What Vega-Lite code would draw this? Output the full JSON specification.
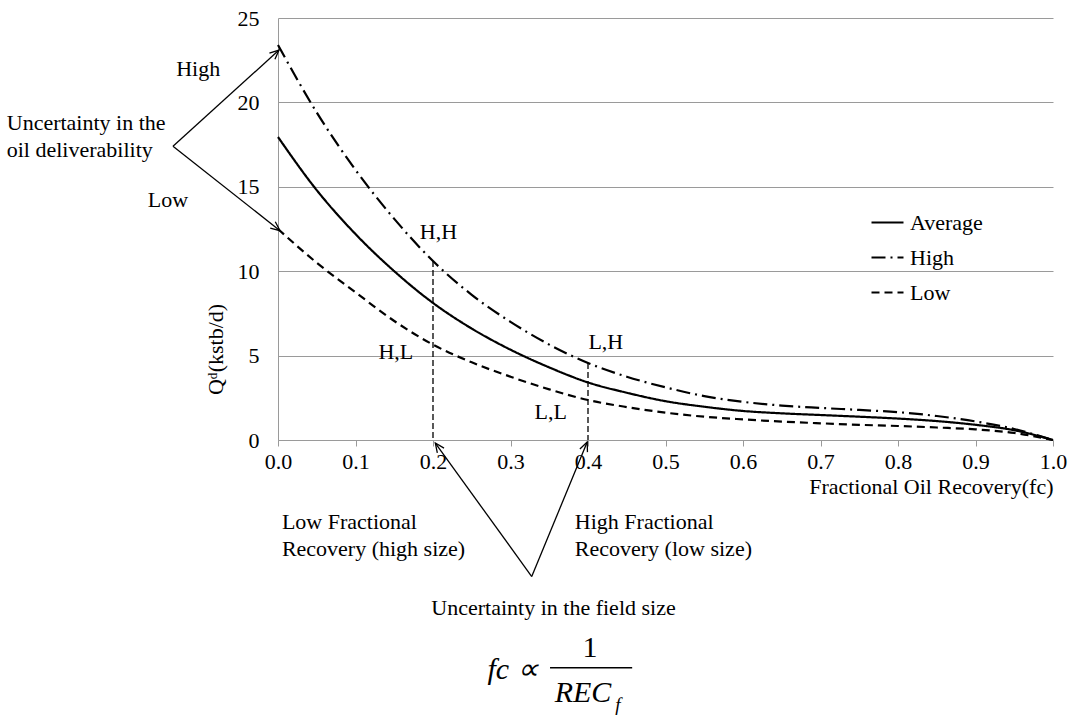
{
  "$schema": "https://vega.github.io/schema/vega-lite/v6.json",
  "width": 775,
  "height": 422,
  "autosize": {"type": "none"},
  "padding": {"left": 278, "top": 18, "right": 15, "bottom": 277},
  "background": "white",
  "config": {
    "view": {"stroke": null},
    "font": "Liberation Serif",
    "text": {"font": "Liberation Serif", "fontSize": 22, "color": "black"},
    "legend": {
      "orient": "none",
      "legendX": 592,
      "legendY": 187,
      "padding": 0,
      "symbolType": "stroke",
      "symbolSize": 1024,
      "symbolStrokeWidth": 2.2,
      "symbolStrokeColor": "black",
      "labelFont": "Liberation Serif",
      "labelFontSize": 22,
      "labelColor": "black",
      "labelOffset": 5,
      "rowPadding": 6
    }
  },
  "datasets": {
    "curves": [
      {"series": "Average", "fc": 0.0, "q": 17.95},
      {"series": "Average", "fc": 0.05, "q": 14.8},
      {"series": "Average", "fc": 0.1, "q": 12.2},
      {"series": "Average", "fc": 0.15, "q": 10.0},
      {"series": "Average", "fc": 0.2, "q": 8.12},
      {"series": "Average", "fc": 0.25, "q": 6.6},
      {"series": "Average", "fc": 0.3, "q": 5.35},
      {"series": "Average", "fc": 0.35, "q": 4.3},
      {"series": "Average", "fc": 0.4, "q": 3.41},
      {"series": "Average", "fc": 0.45, "q": 2.8},
      {"series": "Average", "fc": 0.5, "q": 2.3},
      {"series": "Average", "fc": 0.55, "q": 1.97},
      {"series": "Average", "fc": 0.6, "q": 1.72},
      {"series": "Average", "fc": 0.65, "q": 1.58},
      {"series": "Average", "fc": 0.7, "q": 1.48},
      {"series": "Average", "fc": 0.75, "q": 1.38},
      {"series": "Average", "fc": 0.8, "q": 1.27},
      {"series": "Average", "fc": 0.85, "q": 1.12},
      {"series": "Average", "fc": 0.9, "q": 0.9},
      {"series": "Average", "fc": 0.95, "q": 0.58},
      {"series": "Average", "fc": 1.0, "q": 0.0},
      {"series": "High", "fc": 0.0, "q": 23.4},
      {"series": "High", "fc": 0.05, "q": 19.4},
      {"series": "High", "fc": 0.1, "q": 16.0},
      {"series": "High", "fc": 0.15, "q": 13.1},
      {"series": "High", "fc": 0.2, "q": 10.6},
      {"series": "High", "fc": 0.25, "q": 8.6},
      {"series": "High", "fc": 0.3, "q": 7.0},
      {"series": "High", "fc": 0.35, "q": 5.65},
      {"series": "High", "fc": 0.4, "q": 4.56},
      {"series": "High", "fc": 0.45, "q": 3.75},
      {"series": "High", "fc": 0.5, "q": 3.12},
      {"series": "High", "fc": 0.55, "q": 2.6},
      {"series": "High", "fc": 0.6, "q": 2.26},
      {"series": "High", "fc": 0.65, "q": 2.04},
      {"series": "High", "fc": 0.7, "q": 1.9},
      {"series": "High", "fc": 0.75, "q": 1.78},
      {"series": "High", "fc": 0.8, "q": 1.65},
      {"series": "High", "fc": 0.85, "q": 1.42},
      {"series": "High", "fc": 0.9, "q": 1.1},
      {"series": "High", "fc": 0.95, "q": 0.65},
      {"series": "High", "fc": 1.0, "q": 0.0},
      {"series": "Low", "fc": 0.0, "q": 12.5},
      {"series": "Low", "fc": 0.05, "q": 10.5},
      {"series": "Low", "fc": 0.1, "q": 8.75},
      {"series": "Low", "fc": 0.15, "q": 7.05},
      {"series": "Low", "fc": 0.2, "q": 5.65},
      {"series": "Low", "fc": 0.25, "q": 4.6},
      {"series": "Low", "fc": 0.3, "q": 3.75},
      {"series": "Low", "fc": 0.35, "q": 3.0},
      {"series": "Low", "fc": 0.4, "q": 2.37},
      {"series": "Low", "fc": 0.45, "q": 1.95},
      {"series": "Low", "fc": 0.5, "q": 1.62},
      {"series": "Low", "fc": 0.55, "q": 1.38},
      {"series": "Low", "fc": 0.6, "q": 1.22},
      {"series": "Low", "fc": 0.65, "q": 1.09},
      {"series": "Low", "fc": 0.7, "q": 0.99},
      {"series": "Low", "fc": 0.75, "q": 0.9},
      {"series": "Low", "fc": 0.8, "q": 0.83},
      {"series": "Low", "fc": 0.85, "q": 0.74},
      {"series": "Low", "fc": 0.9, "q": 0.63},
      {"series": "Low", "fc": 0.95, "q": 0.42},
      {"series": "Low", "fc": 1.0, "q": 0.0}
    ],
    "guides": [
      {"fc": 0.2, "top": 10.6, "bottom": 0},
      {"fc": 0.4, "top": 4.56, "bottom": 0}
    ],
    "arrows": [
      {"id": "a1", "x0": -0.1355, "y0": 17.4, "x1": 0.0013, "y1": 23.1},
      {"id": "a2", "x0": -0.1355, "y0": 17.4, "x1": 0.0026, "y1": 12.4},
      {"id": "a3", "x0": 0.3274, "y0": -8.09, "x1": 0.203, "y1": -0.18},
      {"id": "a4", "x0": 0.3274, "y0": -8.09, "x1": 0.399, "y1": -0.12}
    ],
    "bars": [
      {"x0": 0.351, "x1": 0.457, "y": -13.49}
    ],
    "labels": [
      {"kind": "left", "x": -0.35, "y": 18.76, "text": "Uncertainty in the"},
      {"kind": "left", "x": -0.35, "y": 17.16, "text": "oil deliverability"},
      {"kind": "left", "x": 0.005, "y": -4.85, "text": "Low Fractional"},
      {"kind": "left", "x": 0.005, "y": -6.45, "text": "Recovery (high size)"},
      {"kind": "left", "x": 0.383, "y": -4.85, "text": "High Fractional"},
      {"kind": "left", "x": 0.383, "y": -6.45, "text": "Recovery (low size)"},
      {"kind": "center", "x": -0.103, "y": 22.0, "text": "High"},
      {"kind": "center", "x": -0.142, "y": 14.2, "text": "Low"},
      {"kind": "center", "x": 0.207, "y": 12.31, "text": "H,H"},
      {"kind": "center", "x": 0.152, "y": 5.21, "text": "H,L"},
      {"kind": "center", "x": 0.423, "y": 5.8, "text": "L,H"},
      {"kind": "center", "x": 0.352, "y": 1.66, "text": "L,L"},
      {"kind": "center", "x": 0.3555, "y": -9.94, "text": "Uncertainty in the field size"},
      {"kind": "italic", "x": 0.3026, "y": -13.6, "text": "fc ∝"},
      {"kind": "upright", "x": 0.4026, "y": -12.3, "text": "1"},
      {"kind": "italic", "x": 0.3935, "y": -14.97, "text": "REC"},
      {"kind": "sub", "x": 0.4387, "y": -15.68, "text": "f"}
    ]
  },
  "layer": [
    {
      "data": {"name": "curves"},
      "mark": {"type": "line", "interpolate": "monotone", "strokeWidth": 2.2, "color": "black"},
      "encoding": {
        "x": {
          "field": "fc", "type": "quantitative",
          "scale": {"domain": [0, 1], "nice": false, "zero": false},
          "axis": {
            "title": "Fractional Oil Recovery(fc)",
            "values": [0, 0.1, 0.2, 0.3, 0.4, 0.5, 0.6, 0.7, 0.8, 0.9, 1.0],
            "format": ".1f",
            "grid": false,
            "domainColor": "#9a9a9a",
            "tickColor": "#9a9a9a",
            "tickSize": 6,
            "labelFont": "Liberation Serif",
            "labelFontSize": 22,
            "labelColor": "black",
            "labelPadding": 5,
            "labelFlush": false,
            "labelOverlap": false,
            "titleFont": "Liberation Serif",
            "titleFontSize": 22,
            "titleFontWeight": "normal",
            "titleColor": "black",
            "titleAnchor": "end",
            "titlePadding": 4
          }
        },
        "y": {
          "field": "q", "type": "quantitative",
          "scale": {"domain": [0, 25], "nice": false, "zero": false},
          "axis": {
            "title": "Qᵈ(kstb/d)",
            "values": [0, 5, 10, 15, 20, 25],
            "grid": true,
            "gridColor": "#9a9a9a",
            "gridWidth": 1,
            "domainColor": "#9a9a9a",
            "ticks": false,
            "labelFont": "Liberation Serif",
            "labelFontSize": 22,
            "labelColor": "black",
            "labelPadding": 19,
            "titleFont": "Liberation Serif",
            "titleFontSize": 22,
            "titleFontWeight": "normal",
            "titleColor": "black",
            "titleAngle": -90,
            "titleAlign": "center",
            "titleBaseline": "middle",
            "titleX": -63,
            "titleY": 331
          }
        },
        "strokeDash": {
          "field": "series", "type": "nominal",
          "scale": {"domain": ["Average", "High", "Low"], "range": [[1, 0], [14, 5, 2, 5], [8, 5]]},
          "legend": {"title": null}
        }
      }
    },
    {
      "data": {"name": "guides"},
      "mark": {"type": "rule", "color": "black", "strokeWidth": 1.3, "strokeDash": [6, 3]},
      "encoding": {
        "x": {"field": "fc", "type": "quantitative", "scale": {"domain": [0, 1], "nice": false, "zero": false}},
        "y": {"field": "top", "type": "quantitative", "scale": {"domain": [0, 25], "nice": false, "zero": false}},
        "y2": {"field": "bottom"}
      }
    },
    {
      "data": {"name": "arrows"},
      "mark": {"type": "rule", "color": "black", "strokeWidth": 1.3},
      "encoding": {
        "x": {"field": "x0", "type": "quantitative", "scale": {"domain": [0, 1], "nice": false, "zero": false}},
        "y": {"field": "y0", "type": "quantitative", "scale": {"domain": [0, 25], "nice": false, "zero": false}},
        "x2": {"field": "x1"},
        "y2": {"field": "y1"}
      }
    },
    {
      "data": {"name": "arrows"},
      "transform": [{"filter": "datum.id == 'a1'"}],
      "mark": {"type": "point", "shape": "M-0.4,0.9L0,0L0.4,0.9", "filled": false, "stroke": "black", "strokeWidth": 1.3, "size": 420, "opacity": 1, "angle": 47.8},
      "encoding": {
        "x": {"field": "x1", "type": "quantitative", "scale": {"domain": [0, 1], "nice": false, "zero": false}},
        "y": {"field": "y1", "type": "quantitative", "scale": {"domain": [0, 25], "nice": false, "zero": false}}
      }
    },
    {
      "data": {"name": "arrows"},
      "transform": [{"filter": "datum.id == 'a2'"}],
      "mark": {"type": "point", "shape": "M-0.4,0.9L0,0L0.4,0.9", "filled": false, "stroke": "black", "strokeWidth": 1.3, "size": 420, "opacity": 1, "angle": 128.1},
      "encoding": {
        "x": {"field": "x1", "type": "quantitative", "scale": {"domain": [0, 1], "nice": false, "zero": false}},
        "y": {"field": "y1", "type": "quantitative", "scale": {"domain": [0, 25], "nice": false, "zero": false}}
      }
    },
    {
      "data": {"name": "arrows"},
      "transform": [{"filter": "datum.id == 'a3'"}],
      "mark": {"type": "point", "shape": "M-0.4,0.9L0,0L0.4,0.9", "filled": false, "stroke": "black", "strokeWidth": 1.3, "size": 420, "opacity": 1, "angle": -35.4},
      "encoding": {
        "x": {"field": "x1", "type": "quantitative", "scale": {"domain": [0, 1], "nice": false, "zero": false}},
        "y": {"field": "y1", "type": "quantitative", "scale": {"domain": [0, 25], "nice": false, "zero": false}}
      }
    },
    {
      "data": {"name": "arrows"},
      "transform": [{"filter": "datum.id == 'a4'"}],
      "mark": {"type": "point", "shape": "M-0.4,0.9L0,0L0.4,0.9", "filled": false, "stroke": "black", "strokeWidth": 1.3, "size": 420, "opacity": 1, "angle": 22.7},
      "encoding": {
        "x": {"field": "x1", "type": "quantitative", "scale": {"domain": [0, 1], "nice": false, "zero": false}},
        "y": {"field": "y1", "type": "quantitative", "scale": {"domain": [0, 25], "nice": false, "zero": false}}
      }
    },
    {
      "data": {"name": "bars"},
      "mark": {"type": "rule", "color": "black", "strokeWidth": 1.5},
      "encoding": {
        "x": {"field": "x0", "type": "quantitative", "scale": {"domain": [0, 1], "nice": false, "zero": false}},
        "x2": {"field": "x1"},
        "y": {"field": "y", "type": "quantitative", "scale": {"domain": [0, 25], "nice": false, "zero": false}}
      }
    },
    {
      "data": {"name": "labels"},
      "transform": [{"filter": "datum.kind == 'left'"}],
      "mark": {"type": "text", "align": "left", "baseline": "middle", "font": "Liberation Serif", "fontSize": 22, "color": "black"},
      "encoding": {
        "x": {"field": "x", "type": "quantitative", "scale": {"domain": [0, 1], "nice": false, "zero": false}},
        "y": {"field": "y", "type": "quantitative", "scale": {"domain": [0, 25], "nice": false, "zero": false}},
        "text": {"field": "text"}
      }
    },
    {
      "data": {"name": "labels"},
      "transform": [{"filter": "datum.kind == 'center'"}],
      "mark": {"type": "text", "align": "center", "baseline": "middle", "font": "Liberation Serif", "fontSize": 22, "color": "black"},
      "encoding": {
        "x": {"field": "x", "type": "quantitative", "scale": {"domain": [0, 1], "nice": false, "zero": false}},
        "y": {"field": "y", "type": "quantitative", "scale": {"domain": [0, 25], "nice": false, "zero": false}},
        "text": {"field": "text"}
      }
    },
    {
      "data": {"name": "labels"},
      "transform": [{"filter": "datum.kind == 'italic'"}],
      "mark": {"type": "text", "align": "center", "baseline": "middle", "font": "Liberation Serif", "fontStyle": "italic", "fontSize": 30, "color": "black"},
      "encoding": {
        "x": {"field": "x", "type": "quantitative", "scale": {"domain": [0, 1], "nice": false, "zero": false}},
        "y": {"field": "y", "type": "quantitative", "scale": {"domain": [0, 25], "nice": false, "zero": false}},
        "text": {"field": "text"}
      }
    },
    {
      "data": {"name": "labels"},
      "transform": [{"filter": "datum.kind == 'upright'"}],
      "mark": {"type": "text", "align": "center", "baseline": "middle", "font": "Liberation Serif", "fontSize": 30, "color": "black"},
      "encoding": {
        "x": {"field": "x", "type": "quantitative", "scale": {"domain": [0, 1], "nice": false, "zero": false}},
        "y": {"field": "y", "type": "quantitative", "scale": {"domain": [0, 25], "nice": false, "zero": false}},
        "text": {"field": "text"}
      }
    },
    {
      "data": {"name": "labels"},
      "transform": [{"filter": "datum.kind == 'sub'"}],
      "mark": {"type": "text", "align": "center", "baseline": "middle", "font": "Liberation Serif", "fontStyle": "italic", "fontSize": 19, "color": "black"},
      "encoding": {
        "x": {"field": "x", "type": "quantitative", "scale": {"domain": [0, 1], "nice": false, "zero": false}},
        "y": {"field": "y", "type": "quantitative", "scale": {"domain": [0, 25], "nice": false, "zero": false}},
        "text": {"field": "text"}
      }
    }
  ]
}
